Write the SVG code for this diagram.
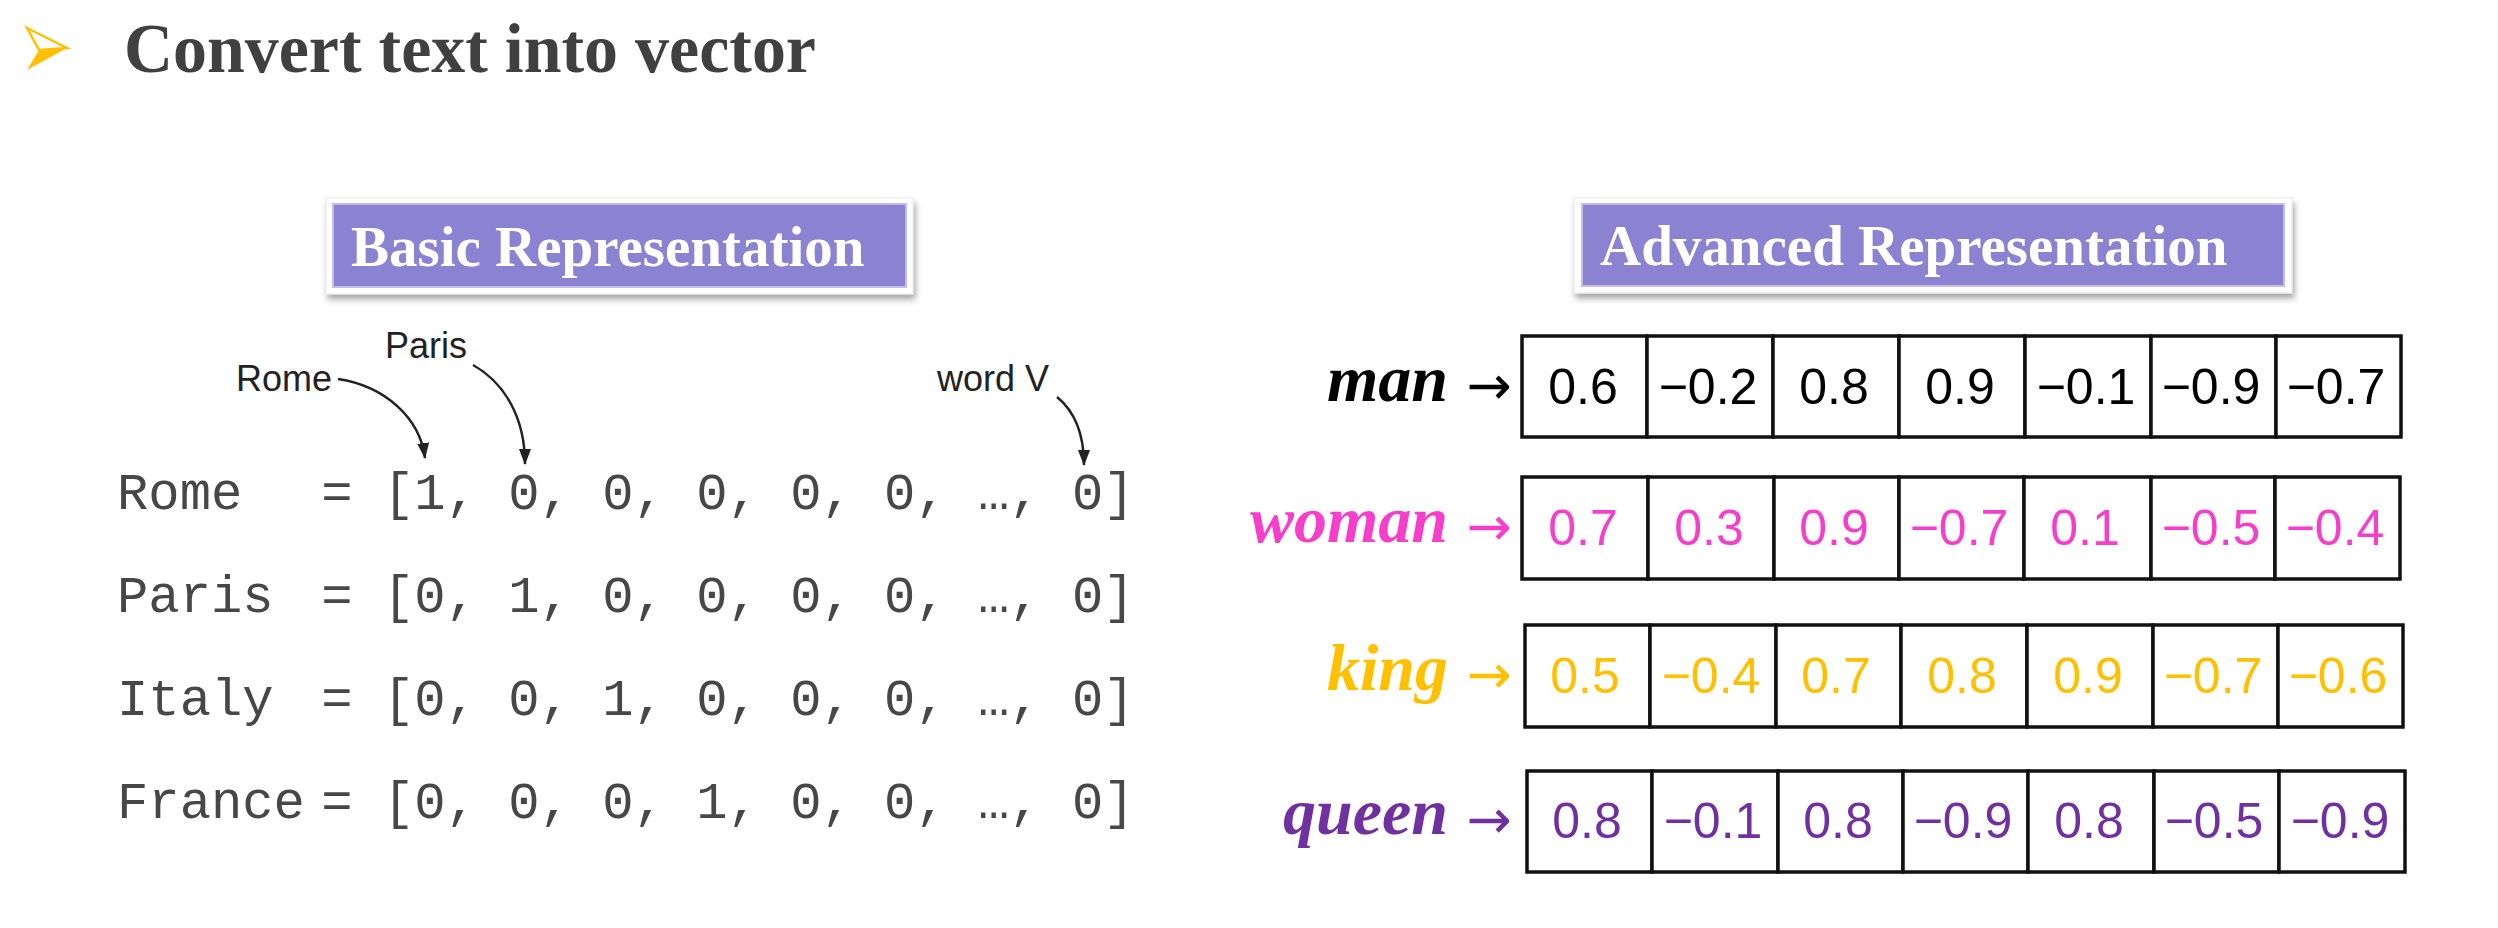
<svg xmlns="http://www.w3.org/2000/svg" width="2498" height="928" viewBox="0 0 2498 928">
<defs>
<style>
.title{font-family:"Liberation Serif","Times New Roman",serif;font-weight:bold;font-size:70px;fill:#404040}
.hdr{font-family:"Liberation Serif","Times New Roman",serif;font-weight:bold;font-size:57px;fill:#fff}
.frame{fill:#fff;stroke:#e6e6e6;stroke-width:1}
.band{fill:#8b83d1;stroke:#c3bdea;stroke-width:2}
.mono{font-family:"Liberation Mono","Courier New",monospace;font-size:52.2px;fill:#474747}
.lbl{font-family:"Liberation Sans",Arial,sans-serif;font-size:36px;fill:#222}
.conn{fill:none;stroke:#222;stroke-width:2.5}
.cell{fill:#fff;stroke:#111;stroke-width:3.5}
.num{font-family:"Liberation Sans",Arial,sans-serif;font-size:50px;text-anchor:middle}
.word{font-family:"Liberation Serif","Times New Roman",serif;font-weight:bold;font-style:italic;font-size:66px;text-anchor:end}
.arr{font-family:"DejaVu Sans",sans-serif;font-size:54px;text-anchor:middle}
.man{fill:#000}.woman{fill:#f53fcb}.king{fill:#ffc000}.queen{fill:#7030a0}
</style>
<filter id="sh" x="-5%" y="-20%" width="110%" height="150%">
<feDropShadow dx="2" dy="5" stdDeviation="3" flood-color="#000" flood-opacity="0.35"/>
</filter>
<marker id="ah" markerWidth="16" markerHeight="12" refX="15" refY="6" orient="auto" markerUnits="userSpaceOnUse" viewBox="0 0 16 12">
<path d="M0,0 L16,6 L0,12 Z" fill="#222"/>
</marker>
</defs>
<rect width="2498" height="928" fill="#fff"/>

<g id="bullet">
<polygon points="27,28 67,48 39,50" fill="#fff" stroke="#ffc000" stroke-width="2.5" stroke-linejoin="miter"/>
<polygon points="39,50 67,48 27,70" fill="#ffc000"/>
</g>
<g id="title">
<text class="title" x="124" y="72" textLength="692" lengthAdjust="spacingAndGlyphs">Convert text into vector</text>
</g>

<g id="basic-header">
<rect class="frame" x="326" y="198" width="587" height="96" filter="url(#sh)"/>
<rect class="band" x="333" y="204" width="573" height="83"/>
<text class="hdr" x="351" y="266">Basic Representation</text>
</g>
<g id="advanced-header">
<rect class="frame" x="1574" y="198" width="718" height="95" filter="url(#sh)"/>
<rect class="band" x="1582" y="204" width="702" height="82"/>
<text class="hdr" x="1600" y="265">Advanced Representation</text>
</g>

<g id="label-rome"><text class="lbl" x="236" y="391">Rome</text></g>
<g id="label-paris"><text class="lbl" x="385" y="358">Paris</text></g>
<g id="label-wordv"><text class="lbl" x="937" y="391">word V</text></g>

<g id="row-rome">
<text class="mono" x="117" y="509">Rome</text>
<text class="mono" x="337" y="509" text-anchor="middle">=</text>
<text class="mono" x="383" y="509">[1, 0, 0, 0, 0, 0, …, 0]</text>
</g>
<g id="row-paris">
<text class="mono" x="117" y="612">Paris</text>
<text class="mono" x="337" y="612" text-anchor="middle">=</text>
<text class="mono" x="383" y="612">[0, 1, 0, 0, 0, 0, …, 0]</text>
</g>
<g id="row-italy">
<text class="mono" x="117" y="715">Italy</text>
<text class="mono" x="337" y="715" text-anchor="middle">=</text>
<text class="mono" x="383" y="715">[0, 0, 1, 0, 0, 0, …, 0]</text>
</g>
<g id="row-france">
<text class="mono" x="117" y="818">France</text>
<text class="mono" x="337" y="818" text-anchor="middle">=</text>
<text class="mono" x="383" y="818">[0, 0, 0, 1, 0, 0, …, 0]</text>
</g>

<g id="connectors">
<path class="conn" d="M338,379 C385,386 420,418 425,458" marker-end="url(#ah)"/>
<path class="conn" d="M473,365 C505,383 525,418 525,464" marker-end="url(#ah)"/>
<path class="conn" d="M1057,397 C1073,410 1084,432 1084,465" marker-end="url(#ah)"/>
</g>

<g id="vec-man">
<text class="word man" x="1448" y="401">man</text>
<text class="arr man" x="1489" y="404">→</text>
<rect class="cell" x="1522" y="336" width="125" height="101"/>
<rect class="cell" x="1647" y="336" width="126" height="101"/>
<rect class="cell" x="1773" y="336" width="126" height="101"/>
<rect class="cell" x="1899" y="336" width="126" height="101"/>
<rect class="cell" x="2025" y="336" width="126" height="101"/>
<rect class="cell" x="2151" y="336" width="125" height="101"/>
<rect class="cell" x="2276" y="336" width="125" height="101"/>
<text class="num man" x="1583" y="404">0.6</text>
<text class="num man" x="1708" y="404">−0.2</text>
<text class="num man" x="1834" y="404">0.8</text>
<text class="num man" x="1960" y="404">0.9</text>
<text class="num man" x="2086" y="404">−0.1</text>
<text class="num man" x="2211" y="404">−0.9</text>
<text class="num man" x="2336" y="404">−0.7</text>
</g>

<g id="vec-woman">
<text class="word woman" x="1448" y="542">woman</text>
<text class="arr woman" x="1489" y="545">→</text>
<rect class="cell" x="1522" y="477" width="126" height="102"/>
<rect class="cell" x="1648" y="477" width="126" height="102"/>
<rect class="cell" x="1774" y="477" width="125" height="102"/>
<rect class="cell" x="1899" y="477" width="125" height="102"/>
<rect class="cell" x="2024" y="477" width="127" height="102"/>
<rect class="cell" x="2151" y="477" width="124" height="102"/>
<rect class="cell" x="2275" y="477" width="125" height="102"/>
<text class="num woman" x="1583" y="545">0.7</text>
<text class="num woman" x="1709" y="545">0.3</text>
<text class="num woman" x="1834" y="545">0.9</text>
<text class="num woman" x="1959" y="545">−0.7</text>
<text class="num woman" x="2085" y="545">0.1</text>
<text class="num woman" x="2211" y="545">−0.5</text>
<text class="num woman" x="2335" y="545">−0.4</text>
</g>

<g id="vec-king">
<text class="word king" x="1448" y="690">king</text>
<text class="arr king" x="1489" y="693">→</text>
<rect class="cell" x="1525" y="625" width="125" height="102"/>
<rect class="cell" x="1650" y="625" width="126" height="102"/>
<rect class="cell" x="1776" y="625" width="125" height="102"/>
<rect class="cell" x="1901" y="625" width="126" height="102"/>
<rect class="cell" x="2027" y="625" width="126" height="102"/>
<rect class="cell" x="2153" y="625" width="125" height="102"/>
<rect class="cell" x="2278" y="625" width="125" height="102"/>
<text class="num king" x="1585" y="693">0.5</text>
<text class="num king" x="1711" y="693">−0.4</text>
<text class="num king" x="1836" y="693">0.7</text>
<text class="num king" x="1962" y="693">0.8</text>
<text class="num king" x="2088" y="693">0.9</text>
<text class="num king" x="2213" y="693">−0.7</text>
<text class="num king" x="2338" y="693">−0.6</text>
</g>

<g id="vec-queen">
<text class="word queen" x="1448" y="834">queen</text>
<text class="arr queen" x="1489" y="838">→</text>
<rect class="cell" x="1527" y="771" width="125" height="101"/>
<rect class="cell" x="1652" y="771" width="126" height="101"/>
<rect class="cell" x="1778" y="771" width="125" height="101"/>
<rect class="cell" x="1903" y="771" width="125" height="101"/>
<rect class="cell" x="2028" y="771" width="126" height="101"/>
<rect class="cell" x="2154" y="771" width="125" height="101"/>
<rect class="cell" x="2279" y="771" width="126" height="101"/>
<text class="num queen" x="1587" y="838">0.8</text>
<text class="num queen" x="1713" y="838">−0.1</text>
<text class="num queen" x="1838" y="838">0.8</text>
<text class="num queen" x="1963" y="838">−0.9</text>
<text class="num queen" x="2089" y="838">0.8</text>
<text class="num queen" x="2214" y="838">−0.5</text>
<text class="num queen" x="2340" y="838">−0.9</text>
</g>
</svg>
